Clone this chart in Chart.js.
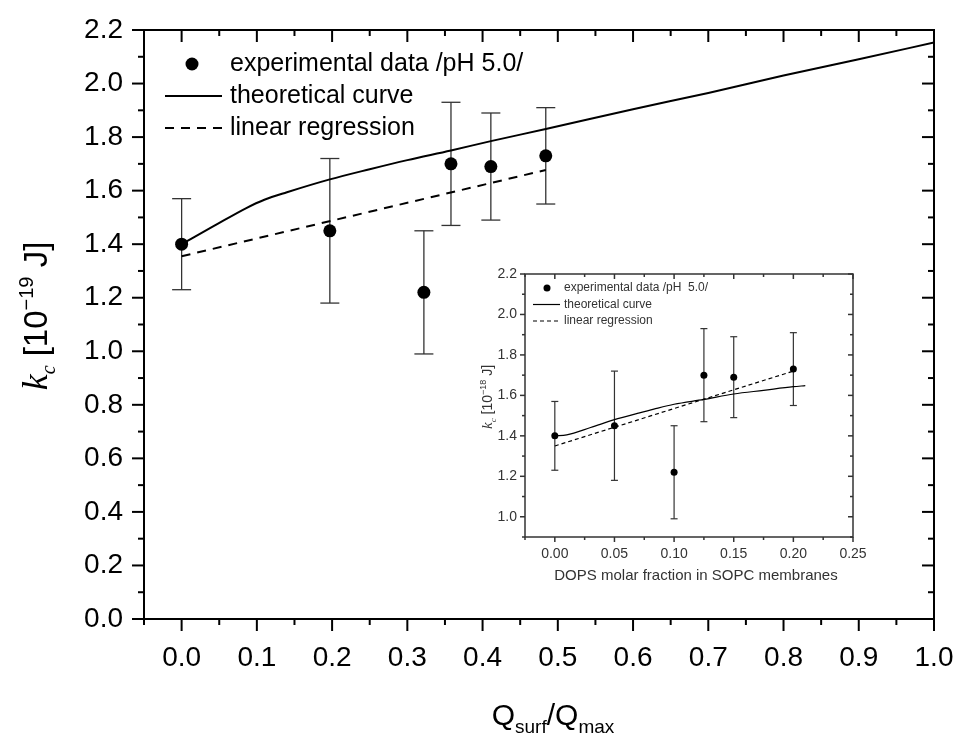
<!DOCTYPE html>
<html>
<head>
<meta charset="utf-8">
<script src="https://cdn.jsdelivr.net/npm/chart.js@4.4.0/dist/chart.umd.min.js"></script>
<style>
  body { margin: 0; background: #fff; }
  #wrap { position: relative; width: 958px; height: 738px; background: #fff; }
  #main { position: absolute; left: 0; top: 0; }
  #inset { position: absolute; left: 462px; top: 250px; }
</style>
</head>
<body>
<div id="wrap">
  <canvas id="main" width="958" height="738"></canvas>
  <canvas id="inset" width="410" height="345"></canvas>
</div>
<script>
const SANS = '"Liberation Sans", Arial, sans-serif';
const SERIF = '"Liberation Serif", "Times New Roman", serif';

// measured bending rigidity (same points in both panels)
const kc = [1.40, 1.45, 1.22, 1.70, 1.69, 1.73];
const kcLow = [1.23, 1.18, 0.99, 1.47, 1.49, 1.55];
const kcHigh = [1.57, 1.72, 1.45, 1.93, 1.89, 1.91];

// main panel: vs Q_surf/Q_max
const qRatio = [0.0, 0.197, 0.322, 0.358, 0.411, 0.484];
const theoryQ = [0, 0.043, 0.086, 0.11, 0.14, 0.197, 0.25, 0.30, 0.358, 0.411, 0.484, 0.6, 0.7, 0.8, 0.9, 1.0];
const theoryKc = [1.40, 1.468, 1.535, 1.566, 1.594, 1.642, 1.68, 1.714, 1.75, 1.785, 1.83, 1.904, 1.965, 2.03, 2.091, 2.153];
const regQ = [0, 0.484];
const regKc = [1.355, 1.677];
const mainXTicks = [0, 0.1, 0.2, 0.3, 0.4, 0.5, 0.6, 0.7, 0.8, 0.9, 1.0];
const mainXLabels = ['0.0', '0.1', '0.2', '0.3', '0.4', '0.5', '0.6', '0.7', '0.8', '0.9', '1.0'];
const mainYTicks = [0, 0.2, 0.4, 0.6, 0.8, 1.0, 1.2, 1.4, 1.6, 1.8, 2.0, 2.2];
const mainYLabels = ['0.0', '0.2', '0.4', '0.6', '0.8', '1.0', '1.2', '1.4', '1.6', '1.8', '2.0', '2.2'];

// inset: vs DOPS molar fraction
const dops = [0, 0.05, 0.10, 0.125, 0.15, 0.20];
const theoryDops = [0, 0.01, 0.03, 0.05, 0.07, 0.083, 0.1, 0.125, 0.15, 0.175, 0.2, 0.21];
const theoryKcInset = [1.40, 1.405, 1.441, 1.48, 1.512, 1.532, 1.556, 1.58, 1.607, 1.625, 1.643, 1.648];
const regDops = [0, 0.20];
const regKcInset = [1.35, 1.72];
const insetXTicks = [0, 0.05, 0.10, 0.15, 0.20, 0.25];
const insetXLabels = ['0.00', '0.05', '0.10', '0.15', '0.20', '0.25'];
const insetYTicks = [1.0, 1.2, 1.4, 1.6, 1.8, 2.0, 2.2];
const insetYLabels = ['1.0', '1.2', '1.4', '1.6', '1.8', '2.0', '2.2'];

const legendLabels = ['experimental data /pH 5.0/', 'theoretical curve', 'linear regression'];
const insetLegendLabels = ['experimental data /pH  5.0/', 'theoretical curve', 'linear regression'];

const pts = (xs, ys) => xs.map((x, i) => ({x: x, y: ys[i]}));

function minorOf(ticks, min, max) {
  const step = ticks[1] - ticks[0];
  const out = [];
  for (let i = -1; i < ticks.length; i++) {
    const v = (i < 0 ? ticks[0] - step : ticks[i]) + step / 2;
    if (v >= min - 1e-9 && v <= max + 1e-9) out.push(v);
  }
  return out;
}

function line(ctx, x1, y1, x2, y2) {
  ctx.beginPath(); ctx.moveTo(x1, y1); ctx.lineTo(x2, y2); ctx.stroke();
}

// draws text made of pieces (sub/superscripts), centred on x
function rich(ctx, parts, cx, cy, angle) {
  ctx.save();
  ctx.translate(cx, cy);
  ctx.rotate(angle);
  ctx.textBaseline = 'alphabetic';
  let total = 0;
  parts.forEach(p => { ctx.font = p.font; total += ctx.measureText(p.t).width; });
  let x = -total / 2;
  parts.forEach(p => {
    ctx.font = p.font;
    ctx.fillText(p.t, x, p.dy || 0);
    x += ctx.measureText(p.t).width;
  });
  ctx.restore();
}

function framePlugin(o) {
  return {
    id: 'frame',
    afterDraw(chart) {
      const {ctx, chartArea: a} = chart;
      const xs = chart.scales.x, ys = chart.scales.y;
      ctx.save();
      ctx.strokeStyle = o.color;
      ctx.lineWidth = o.width;
      ctx.lineCap = 'square';
      ctx.strokeRect(a.left, a.top, a.right - a.left, a.bottom - a.top);
      ctx.lineCap = 'butt';
      o.xMajor.forEach(v => {
        const p = xs.getPixelForValue(v);
        line(ctx, p, a.bottom, p, a.bottom + o.major);
        line(ctx, p, a.top, p, a.top + o.major);
      });
      minorOf(o.xMajor, xs.min, xs.max).forEach(v => {
        const p = xs.getPixelForValue(v);
        line(ctx, p, a.bottom, p, a.bottom + o.minor);
        line(ctx, p, a.top, p, a.top + o.minor);
      });
      o.yMajor.forEach(v => {
        const p = ys.getPixelForValue(v);
        line(ctx, a.left - o.major, p, a.left, p);
        line(ctx, a.right - o.major, p, a.right, p);
      });
      minorOf(o.yMajor, ys.min, ys.max).forEach(v => {
        const p = ys.getPixelForValue(v);
        line(ctx, a.left - o.minor, p, a.left, p);
        line(ctx, a.right - o.minor, p, a.right, p);
      });
      ctx.restore();
    }
  };
}

function errorBarPlugin(xVals, o) {
  return {
    id: 'errorBars',
    beforeDatasetsDraw(chart) {
      const {ctx} = chart;
      const xs = chart.scales.x, ys = chart.scales.y;
      ctx.save();
      ctx.strokeStyle = o.color;
      ctx.lineWidth = o.width;
      xVals.forEach((v, i) => {
        const px = xs.getPixelForValue(v);
        const lo = ys.getPixelForValue(kcLow[i]);
        const hi = ys.getPixelForValue(kcHigh[i]);
        line(ctx, px, lo, px, hi);
        line(ctx, px - o.cap, lo, px + o.cap, lo);
        line(ctx, px - o.cap, hi, px + o.cap, hi);
      });
      ctx.restore();
    }
  };
}

function legendPlugin(labels, o) {
  return {
    id: 'customLegend',
    afterDraw(chart) {
      const {ctx, chartArea: a} = chart;
      const ds = chart.data.datasets;
      ctx.save();
      ctx.font = o.font;
      ctx.fillStyle = o.color;
      ctx.textBaseline = 'middle';
      labels.forEach((t, i) => {
        const y = a.top + o.y0 + i * o.dy;
        const d = ds[i];
        if (i === 0) {
          ctx.beginPath();
          ctx.arc(a.left + o.dotX, y, d.pointRadius, 0, Math.PI * 2);
          ctx.fillStyle = d.pointBackgroundColor;
          ctx.fill();
          ctx.fillStyle = o.color;
        } else {
          ctx.strokeStyle = d.borderColor;
          ctx.lineWidth = d.borderWidth;
          ctx.setLineDash(d.borderDash || []);
          line(ctx, a.left + o.lineX1, y, a.left + o.lineX2, y);
          ctx.setLineDash([]);
        }
        ctx.fillText(t, a.left + o.textX, y);
      });
      ctx.restore();
    }
  };
}

function titlePlugin(o) {
  return {
    id: 'titles',
    afterDraw(chart) {
      const {ctx} = chart;
      ctx.save();
      ctx.fillStyle = o.color;
      rich(ctx, o.yParts, o.yX, o.yY, -Math.PI / 2);
      rich(ctx, o.xParts, o.xX, o.xY, 0);
      ctx.restore();
    }
  };
}

function axis(o) {
  return {
    type: 'linear',
    min: o.min,
    max: o.max,
    afterBuildTicks: s => { s.ticks = o.ticks.map(v => ({value: v})); },
    afterFit: s => {
      if (o.width) s.width = o.width;
      if (o.height) s.height = o.height;
      s.paddingLeft = 0; s.paddingRight = 0; s.paddingTop = 0; s.paddingBottom = 0;
    },
    grid: {display: false, drawTicks: true, tickLength: o.tickLength},
    border: {display: false},
    ticks: {
      autoSkip: false, maxRotation: 0, padding: o.padding,
      color: o.color, font: {family: SANS, size: o.size},
      callback: (v, i) => o.labels[i]
    }
  };
}

function build(canvas, o) {
  return new Chart(canvas, {
    type: 'scatter',
    data: {
      datasets: [
        {data: pts(o.xVals, kc), showLine: false, pointRadius: o.dot, pointBackgroundColor: '#000', pointBorderWidth: 0},
        {data: pts(o.theoryX, o.theoryY), showLine: true, borderColor: '#000', borderWidth: o.lw, pointRadius: 0, cubicInterpolationMode: 'monotone'},
        {data: pts(o.regX, o.regY), showLine: true, borderColor: '#000', borderWidth: o.lw, borderDash: o.dash, pointRadius: 0}
      ]
    },
    options: {
      responsive: false,
      animation: false,
      events: [],
      layout: {padding: o.padding},
      plugins: {legend: {display: false}, tooltip: {enabled: false}},
      scales: {x: o.x, y: o.y}
    },
    plugins: [o.errors, o.frame, o.legend, o.titles]
  });
}

build(document.getElementById('main'), {
  xVals: qRatio, theoryX: theoryQ, theoryY: theoryKc, regX: regQ, regY: regKc,
  dot: 6.5, lw: 2, dash: [9, 7],
  padding: {left: 0, top: 30, right: 24, bottom: 0},
  x: axis({min: -0.05, max: 1.0, ticks: mainXTicks, labels: mainXLabels, height: 119, tickLength: 12, padding: 10, size: 28, color: '#000'}),
  y: axis({min: 0, max: 2.2, ticks: mainYTicks, labels: mainYLabels, width: 144, tickLength: 12, padding: 9, size: 28, color: '#000'}),
  errors: errorBarPlugin(qRatio, {color: '#333', width: 1.3, cap: 9.5}),
  frame: framePlugin({xMajor: mainXTicks, yMajor: mainYTicks, major: 12, minor: 6, color: '#000', width: 2}),
  legend: legendPlugin(legendLabels, {font: '25px ' + SANS, color: '#000', y0: 34, dy: 32, dotX: 48, lineX1: 21, lineX2: 78, textX: 86}),
  titles: titlePlugin({
    color: '#000',
    yX: 47, yY: 316,
    yParts: [
      {t: 'k', font: 'italic 36px ' + SERIF},
      {t: 'c', font: 'italic 20px ' + SERIF, dy: 8},
      {t: ' [10', font: '33px ' + SANS},
      {t: '\u221219', font: '20px ' + SANS, dy: -14},
      {t: ' J]', font: '33px ' + SANS}
    ],
    xX: 553, xY: 725,
    xParts: [
      {t: 'Q', font: '30px ' + SANS},
      {t: 'surf', font: '19px ' + SANS, dy: 8},
      {t: '/Q', font: '30px ' + SANS},
      {t: 'max', font: '19px ' + SANS, dy: 8}
    ]
  })
});

build(document.getElementById('inset'), {
  xVals: dops, theoryX: theoryDops, theoryY: theoryKcInset, regX: regDops, regY: regKcInset,
  dot: 3.5, lw: 1.2, dash: [4, 3],
  padding: {left: 0, top: 24, right: 19, bottom: 0},
  x: axis({min: -0.025, max: 0.25, ticks: insetXTicks, labels: insetXLabels, height: 58, tickLength: 5, padding: 4, size: 14, color: '#333'}),
  y: axis({min: 0.9, max: 2.2, ticks: insetYTicks, labels: insetYLabels, width: 63, tickLength: 5, padding: 3, size: 14, color: '#333'}),
  errors: errorBarPlugin(dops, {color: '#333', width: 1.2, cap: 3.5}),
  frame: framePlugin({xMajor: insetXTicks, yMajor: insetYTicks, major: 5, minor: 3, color: '#333', width: 1.5}),
  legend: legendPlugin(insetLegendLabels, {font: '12px ' + SANS, color: '#333', y0: 14, dy: 16.5, dotX: 22, lineX1: 8, lineX2: 35, textX: 39}),
  titles: titlePlugin({
    color: '#333',
    yX: 30, yY: 147,
    yParts: [
      {t: 'k', font: 'italic 15px ' + SERIF},
      {t: 'c', font: 'italic 9px ' + SERIF, dy: 4},
      {t: ' [10', font: '14px ' + SANS},
      {t: '\u221218', font: '9px ' + SANS, dy: -6},
      {t: ' J]', font: '14px ' + SANS}
    ],
    xX: 234, xY: 330,
    xParts: [
      {t: 'DOPS molar fraction in SOPC membranes', font: '15px ' + SANS}
    ]
  })
});
</script>
</body>
</html>
